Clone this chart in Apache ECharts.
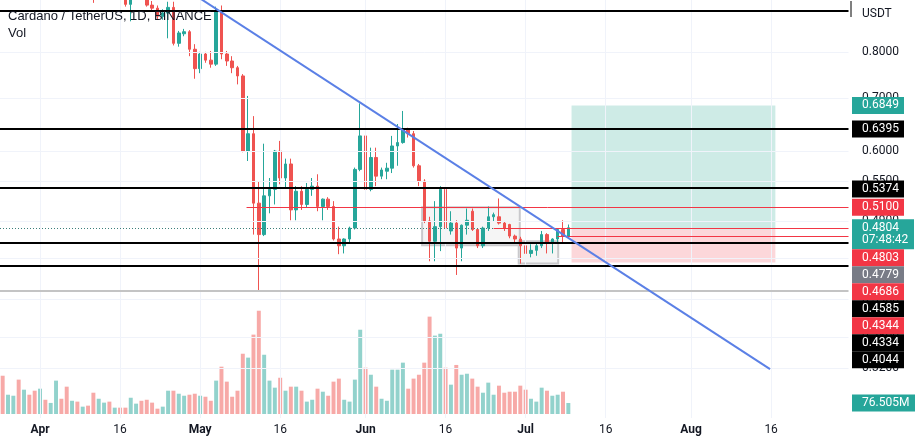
<!DOCTYPE html>
<html>
<head>
<meta charset="utf-8">
<style>html,body{margin:0;padding:0;background:#fff}#c{width:920px;height:442px}</style>
<script src="https://cdn.jsdelivr.net/npm/echarts@6/dist/echarts.min.js"></script>
</head>
<body>
<div id="c"></div>
<script>
// ---------- DATA ----------
const firstDay = '2022-03-25';
const dayCount = 159;
const openP = [1.155,1.140,1.150,1.175,1.165,1.200,1.175,1.150,1.160,1.145,1.180,1.190,1.150,1.070,1.095,1.035,1.050,1.020,0.945,0.975,0.995,0.950,0.960,0.950,0.918,0.955,0.975,
0.955,0.916,0.908,0.887,0.895,0.910,0.820,0.843,0.848,0.806,0.762,0.795,0.781,0.772,0.900,0.795,0.779,0.764,0.746,0.600,0.631,0.516,0.471,0.527,0.537,0.600,0.555,0.578,0.506,0.534,0.514,
0.537,0.542,0.511,0.522,0.511,0.465,0.456,0.465,0.480,0.569,0.627,0.537,0.589,0.558,0.566,0.571,0.609,0.615,0.640,0.631,0.575,0.550,0.490,0.462,0.482,0.537,0.476,0.487,0.453,0.484,0.504,
0.478,0.456,0.480,0.496,0.496,0.487,0.485,0.469,0.465,0.456,0.446,0.450,0.456,0.471,0.460,0.465,0.478,0.469];
const closeP = [1.140,1.150,1.175,1.165,1.200,1.175,1.150,1.160,1.145,1.180,1.190,1.150,1.070,1.095,1.035,1.050,1.020,0.945,0.975,0.995,0.950,0.960,0.950,0.918,0.955,0.975,0.955,
0.916,0.908,0.887,0.895,0.910,0.820,0.845,0.848,0.806,0.762,0.795,0.781,0.772,0.900,0.795,0.779,0.764,0.746,0.600,0.631,0.516,0.471,0.527,0.537,0.600,0.555,0.578,0.506,0.534,0.514,0.537,
0.542,0.511,0.522,0.511,0.465,0.456,0.465,0.480,0.569,0.627,0.537,0.589,0.558,0.568,0.571,0.609,0.615,0.640,0.631,0.575,0.550,0.490,0.462,0.482,0.537,0.480,0.487,0.453,0.484,0.491,0.478,
0.456,0.480,0.496,0.499,0.487,0.480,0.469,0.465,0.456,0.446,0.450,0.456,0.471,0.460,0.465,0.478,0.469,0.4804];
const lowP = [1.120,1.125,1.140,1.150,1.160,1.160,1.140,1.100,1.140,1.135,1.160,1.140,1.060,1.060,1.020,1.025,1.010,0.922,0.935,0.950,0.940,0.935,0.940,0.912,0.874,0.945,0.940,
0.912,0.902,0.880,0.878,0.832,0.815,0.812,0.837,0.790,0.740,0.752,0.775,0.764,0.768,0.783,0.768,0.752,0.728,0.598,0.583,0.471,0.400,0.469,0.501,0.514,0.545,0.539,0.491,0.491,0.506,0.510,
0.527,0.504,0.491,0.506,0.463,0.445,0.446,0.460,0.478,0.566,0.534,0.534,0.542,0.553,0.553,0.563,0.575,0.613,0.624,0.572,0.542,0.487,0.436,0.436,0.449,0.453,0.471,0.419,0.436,0.471,0.476,
0.453,0.453,0.476,0.489,0.485,0.476,0.466,0.460,0.433,0.440,0.441,0.443,0.453,0.446,0.446,0.460,0.460,0.466];
const highP = [1.185,1.165,1.190,1.205,1.240,1.210,1.180,1.170,1.185,1.190,1.200,1.195,1.160,1.100,1.105,1.060,1.070,1.025,0.985,1.010,1.000,0.975,0.965,0.955,0.960,0.985,0.985,
0.985,0.927,0.915,0.905,0.925,0.925,0.850,0.855,0.852,0.818,0.800,0.800,0.802,0.912,0.915,0.802,0.790,0.768,0.750,0.704,0.664,0.550,0.613,0.555,0.602,0.618,0.587,0.587,0.542,0.542,0.547,
0.555,0.561,0.523,0.525,0.519,0.482,0.466,0.482,0.572,0.689,0.633,0.606,0.606,0.572,0.580,0.627,0.649,0.674,0.642,0.636,0.578,0.553,0.496,0.519,0.542,0.547,0.504,0.491,0.485,0.508,0.508,
0.480,0.482,0.511,0.502,0.523,0.490,0.486,0.471,0.468,0.462,0.458,0.460,0.476,0.473,0.466,0.480,0.491,0.485];
const volumeM = [266,134,127,239,169,134,162,176,99,77,232,106,190,92,86,51,58,148,106,79,86,44,44,44,113,72,92,99,79,37,
51,162,162,141,127,134,141,127,120,92,232,329,225,120,162,419,392,552,718,412,232,183,252,162,190,190,162,86,99,176,
155,127,225,246,99,86,239,586,322,273,190,106,92,308,308,357,176,246,273,357,677,545,558,322,204,341,273,280,246,190,
148,218,134,197,148,155,155,197,169,106,86,183,162,127,134,155,76.505];

const xTickLabels = {'2022-04-01':'Apr','2022-04-16':'16','2022-05-01':'May','2022-05-16':'16','2022-06-01':'Jun',
  '2022-06-16':'16','2022-07-01':'Jul','2022-07-16':'16','2022-08-01':'Aug','2022-08-16':'16'};
const priceTicks = [0.8, 0.7, 0.6, 0.55, 0.49, 0.44, 0.39, 0.35, 0.32];

const blackLevels = [0.903, 0.6395, 0.5374, 0.4585, 0.4334];
const grayLevel = 0.4044;
const redRays = [[45.7, 0.5100], [92, 0.4803], [104, 0.4686]];   // [start day-offset, price]
const lastPrice = 0.4804;
const countdown = '07:48:42';
const trendLine = [[35.4, 0.949], [143.8, 0.3189]];
const rangeBoxes = [[[78.6, 0.5100], [96.9, 0.4566]], [[96.7, 0.4620], [104.1, 0.4333]]];
const positionDays = [106.6, 144.8];
const positionLevels = {target: 0.6849, entry: 0.4779, stop: 0.4344};

const tagPrices = [0.6849, 0.6395, 0.5374, 0.5100, 0.4804, 0.4803, 0.4779, 0.4686, 0.4585, 0.4344, 0.4334, 0.4044];
const tagKinds  = ['teal','black','black','red','teal','red','gray','red','black','red','black','black'];
const volumeTag = '76.505M';

// ---------- CHART ----------
const UP = '#26a69a', DOWN = '#ef5350';
const cats = [];
const base = Date.parse(firstDay + 'T00:00:00Z');
for (let i = 0; i < dayCount; i++) cats.push(new Date(base + i * 86400000).toISOString().slice(0, 10));
const candleData = openP.map((o, i) => [o, closeP[i], lowP[i], highP[i]]);
const volData = volumeM.map((v, i) => ({value: v, itemStyle: {color: closeP[i] >= openP[i] ? 'rgba(38,166,154,0.5)' : 'rgba(239,83,80,0.5)'}}));
const vertIdx = Object.keys(xTickLabels).map(k => cats.indexOf(k));
const XMAX = dayCount - 0.5;

const chart = echarts.init(document.getElementById('c'), null, {renderer: 'canvas', width: 920, height: 442});

const levelLines = [];
blackLevels.forEach(p => levelLines.push({yAxis: p, lineStyle: {color: '#000', width: 2, type: 'solid'}}));
levelLines.push({yAxis: grayLevel, lineStyle: {color: '#c4c4c4', width: 2, type: 'solid'}});
levelLines.push({yAxis: lastPrice, lineStyle: {color: '#3d7f7a', width: 1, type: [1, 2]}});
redRays.forEach(r => levelLines.push([{coord: [r[0], r[1]], lineStyle: {color: '#f23645', width: 1, type: 'solid'}}, {coord: [XMAX, r[1]]}]));

const areas = [
  [{coord: [positionDays[0], positionLevels.target], itemStyle: {color: 'rgba(8,153,129,0.2)'}}, {coord: [positionDays[1], positionLevels.entry]}],
  [{coord: [positionDays[0], positionLevels.entry], itemStyle: {color: 'rgba(242,54,69,0.2)'}}, {coord: [positionDays[1], positionLevels.stop]}]
];
rangeBoxes.forEach(b => areas.push([{coord: b[0], itemStyle: {color: 'rgba(170,170,175,0.12)', borderColor: '#c9c9cc', borderWidth: 2}}, {coord: b[1]}]));

const option = {
  animation: false,
  backgroundColor: '#ffffff',
  title: [
    {text: 'Cardano / TetherUS, 1D, BINANCE', left: 8, top: 10, padding: 0, textStyle: {fontSize: 13, fontWeight: 'normal', color: '#131722', fontFamily: 'Liberation Sans'}},
    {text: 'Vol', left: 8, top: 27, padding: 0, textStyle: {fontSize: 13, fontWeight: 'normal', color: '#131722', fontFamily: 'Liberation Sans'}}
  ],
  grid: [
    {left: -2, right: 71.5, top: 0, bottom: 24},
    {left: -2, right: 71.5, top: 200, bottom: 28}
  ],
  xAxis: [
    {type: 'category', gridIndex: 0, data: cats, boundaryGap: true,
      axisLine: {show: false}, axisTick: {show: false}, splitLine: {show: false},
      axisLabel: {
        interval: (idx, val) => xTickLabels[val] !== undefined,
        formatter: val => xTickLabels[val] === '16' ? '16' : '{m|' + xTickLabels[val] + '}',
        color: '#131722', fontSize: 12, fontFamily: 'Roboto', margin: 6,
        rich: {m: {fontWeight: 'bold', fontSize: 12, color: '#131722', fontFamily: 'Roboto'}}
      }},
    {type: 'value', gridIndex: 0, min: -0.5, max: XMAX, show: false},
    {type: 'category', gridIndex: 1, data: cats, boundaryGap: true, show: false}
  ],
  yAxis: [
    {type: 'log', logBase: 10, gridIndex: 0, min: 0.2768, max: 0.9297, show: false, splitLine: {show: false}},
    {type: 'value', gridIndex: 1, min: 0, max: 1488, show: false, splitLine: {show: false}}
  ],
  series: [
    {type: 'line', xAxisIndex: 1, yAxisIndex: 0, data: [], z: 0, silent: true,
      markLine: {silent: true, symbol: 'none', label: {show: false}, animation: false,
        lineStyle: {color: '#f0f3fa', width: 1, type: 'solid'},
        data: vertIdx.map(i => ({xAxis: i})).concat(priceTicks.map(p => ({yAxis: p})))}},
    {type: 'bar', xAxisIndex: 2, yAxisIndex: 1, data: volData, barWidth: '74%', z: 1, silent: true},
    {type: 'line', xAxisIndex: 1, yAxisIndex: 0, data: [], z: 2, silent: true,
      markArea: {silent: true, label: {show: false}, data: areas}},
    {type: 'candlestick', xAxisIndex: 0, yAxisIndex: 0, data: candleData, barWidth: 3, z: 3,
      itemStyle: {color: UP, color0: DOWN, borderColor: UP, borderColor0: DOWN, borderWidth: 1}},
    {type: 'line', xAxisIndex: 1, yAxisIndex: 0, data: [], z: 4, silent: true,
      markLine: {silent: true, symbol: 'none', label: {show: false}, animation: false, data: levelLines}},
    {type: 'line', xAxisIndex: 1, yAxisIndex: 0, data: trendLine, z: 5, symbol: 'none', silent: true,
      lineStyle: {color: '#5b80e6', width: 2}}
  ]
};
chart.setOption(option);

// ---------- right-hand price scale ----------
const yPix = p => chart.convertToPixel({yAxisIndex: 0}, p);
const colors = {teal: '#26a69a', black: '#000000', red: '#f23645', gray: '#787b86'};
const g = [];
g.push({type: 'text', x: 862, y: 14, z: 50, style: {text: 'USDT', fill: '#131722', font: '12px Roboto', align: 'left', verticalAlign: 'middle'}});
g.push({type: 'line', z: 50, shape: {x1: 851, y1: 1, x2: 851, y2: 17}, style: {stroke: '#000', lineWidth: 1}});
priceTicks.forEach(p => g.push({type: 'text', x: 862, y: yPix(p), z: 50,
  style: {text: p.toFixed(4), fill: '#131722', font: '12px Roboto', align: 'left', verticalAlign: 'middle'}}));
let prevBottom = -1e9;
tagPrices.map((p, i) => i).sort((a, b) => tagPrices[b] - tagPrices[a]).forEach(i => {
  const p = tagPrices[i];
  const two = p === lastPrice;
  const h = two ? 30 : 17;
  let top = yPix(p) - 8.5;
  if (top < prevBottom) top = prevBottom;
  prevBottom = top + h;
  g.push({type: 'rect', z: 60, shape: {x: 852, y: top, width: two ? 62 : 52, height: h}, style: {fill: colors[tagKinds[i]]}});
  g.push({type: 'text', z: 61, x: 862, y: top + 8.5, style: {text: p.toFixed(4), fill: '#fff', font: '12px Roboto', align: 'left', verticalAlign: 'middle'}});
  if (two) g.push({type: 'text', z: 61, x: 862, y: top + 21, style: {text: countdown, fill: '#fff', font: '12px Roboto', align: 'left', verticalAlign: 'middle'}});
});
const vy = chart.convertToPixel({yAxisIndex: 1}, volumeM[volumeM.length - 1]);
g.push({type: 'rect', z: 60, shape: {x: 852, y: vy - 8.5, width: 63, height: 17}, style: {fill: UP}});
g.push({type: 'text', z: 61, x: 862, y: vy, style: {text: volumeTag, fill: '#fff', font: '12px Roboto', align: 'left', verticalAlign: 'middle'}});
chart.setOption({graphic: g});
</script>
</body>
</html>
